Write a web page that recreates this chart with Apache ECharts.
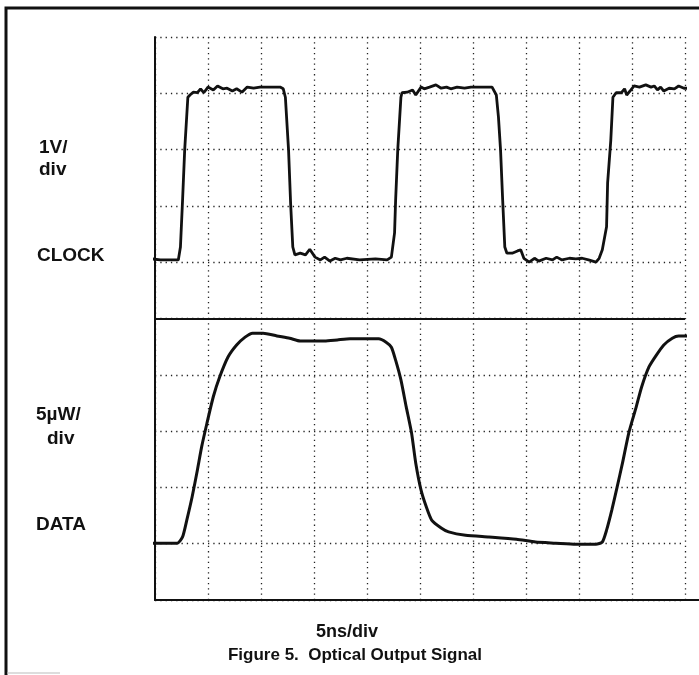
<!DOCTYPE html>
<html>
<head>
<meta charset="utf-8">
<script src="https://cdn.jsdelivr.net/npm/echarts@6/dist/echarts.min.js"></script>
<style>
  html, body { margin: 0; padding: 0; background: #fff; }
  #chart { width: 699px; height: 675px; }
</style>
</head>
<body>
<div id="chart"></div>
<script>
// time in ns (5 ns per division), level in screen divisions (0 = bottom, 10 = top)
const clockTime = [-0.7, 0.5, 2.2, 2.4, 2.6, 2.8, 3.1, 3.3, 3.6, 4.0, 4.3, 4.6, 5.0, 5.5, 5.9, 6.4, 6.8, 7.3, 7.7, 8.2, 8.7, 9.3, 9.9, 10.6, 11.1, 11.8, 12.1,
  12.3, 12.6, 12.8, 13.0, 13.2, 13.7, 14.2, 14.6, 15.1, 15.6, 16.0, 16.5, 17.0, 17.5, 18.1, 19.3, 20.8, 21.9,
  22.3, 22.6, 22.7, 22.9, 23.2, 23.3, 23.8, 24.3, 24.6, 25.1, 25.4, 25.9, 26.5, 27.0, 27.5, 27.9, 28.5, 29.2, 29.8, 30.4, 31.2, 31.8,
  32.2, 32.4, 32.6, 32.8, 33.0, 33.2, 33.7, 34.2, 34.5, 34.8, 35.3, 35.8, 36.2, 36.9, 37.5, 37.9, 38.4, 39.1, 39.7, 40.3, 40.9, 41.6, 41.9,
  42.2, 42.6, 42.7, 43.0, 43.2, 43.5, 44.0, 44.3, 44.5, 44.9, 45.2, 45.7, 46.3, 46.8, 47.1, 47.4, 47.7, 48.0, 48.5, 49.0, 49.4, 49.9, 50.3];
const clockLevel = [6.07, 6.04, 6.04, 6.27, 7.10, 7.99, 8.93, 8.97, 9.02, 9.01, 9.08, 9.01, 9.11, 9.06, 9.13, 9.08, 9.09, 9.04, 9.08, 9.02, 9.11, 9.09, 9.11, 9.11, 9.11, 9.11, 9.08,
  8.93, 7.99, 7.02, 6.27, 6.13, 6.16, 6.13, 6.23, 6.09, 6.04, 6.09, 6.02, 6.07, 6.04, 6.07, 6.04, 6.06, 6.04,
  6.09, 6.52, 7.10, 7.99, 8.93, 9.01, 9.02, 9.06, 8.97, 9.11, 9.08, 9.11, 9.15, 9.09, 9.11, 9.08, 9.11, 9.09, 9.11, 9.11, 9.11, 9.11,
  8.97, 8.58, 7.99, 7.10, 6.27, 6.16, 6.16, 6.20, 6.22, 6.07, 6.00, 6.07, 6.02, 6.07, 6.04, 6.09, 6.04, 6.07, 6.06, 6.07, 6.04, 6.00, 6.07,
  6.22, 6.63, 7.41, 8.17, 8.93, 9.01, 9.01, 9.08, 8.97, 9.06, 9.13, 9.11, 9.15, 9.11, 9.13, 9.06, 9.11, 9.04, 9.09, 9.08, 9.13, 9.09, 9.09];

const dataTime = [-0.7, 2.1, 2.6, 3.0, 3.5, 4.0, 4.4, 4.9, 5.5, 6.1, 6.9, 7.7, 8.5, 9.2, 10.2, 11.5, 12.7, 13.7, 14.9, 16.0, 17.2, 18.4, 19.9, 21.1,
  21.8, 22.3, 22.7, 23.2, 23.7, 24.2, 24.6, 25.1, 25.6, 26.1, 27.0, 27.7, 29.3, 31.5, 34.1, 35.9, 37.8, 39.7, 41.6,
  42.2, 42.6, 43.1, 43.6, 44.1, 44.7, 45.4, 45.9, 46.6, 47.3, 48.0, 48.8, 49.4, 50.2];
const dataLevel = [1.01, 1.01, 1.12, 1.42, 1.83, 2.31, 2.72, 3.14, 3.61, 3.96, 4.32, 4.53, 4.67, 4.74, 4.74, 4.69, 4.65, 4.60, 4.60, 4.60, 4.62, 4.64, 4.64, 4.64,
  4.58, 4.49, 4.26, 3.91, 3.43, 2.97, 2.43, 1.95, 1.65, 1.42, 1.28, 1.21, 1.15, 1.12, 1.08, 1.03, 1.01, 0.99, 0.99,
  1.03, 1.24, 1.60, 2.01, 2.43, 2.97, 3.43, 3.78, 4.14, 4.35, 4.53, 4.65, 4.69, 4.69];

const dividerLevel = 5; // solid line between the two channels

const labelFont = 'bold 19px "Liberation Sans", Arial, sans-serif';
const ink = '#111';

const chart = echarts.init(document.getElementById('chart'));

const dotted = { color: '#222', width: 1.3, type: [1.3, 4] };

chart.setOption({
  backgroundColor: '#fff',
  animation: false,
  grid: [
    { left: 155, right: 14, top: 37, bottom: 75 },
    { left: 155, right: 0, bottom: 75, height: 1 } // only carries the long bottom edge
  ],
  xAxis: [
    {
      type: 'value', min: 0, max: 50, interval: 5,
      axisLine: { show: false },
      axisTick: { show: false },
      axisLabel: { show: false },
      splitLine: { show: true, lineStyle: dotted }
    },
    {
      gridIndex: 1, type: 'value', min: 0, max: 1,
      axisLine: { show: true, lineStyle: { color: ink, width: 2.2 } },
      axisTick: { show: false },
      axisLabel: { show: false },
      splitLine: { show: false }
    }
  ],
  yAxis: [
    {
      type: 'value', min: 0, max: 10, interval: 1,
      axisLine: { show: true, lineStyle: { color: ink, width: 2 } },
      axisTick: { show: false },
      axisLabel: { show: false },
      splitLine: { show: true, lineStyle: dotted }
    },
    { gridIndex: 1, show: false }
  ],
  series: [
    {
      name: 'CLOCK',
      type: 'line',
      data: clockTime.map((t, i) => [t, clockLevel[i]]),
      showSymbol: false,
      clip: false,
      lineStyle: { color: ink, width: 2.8 }
    },
    {
      name: 'DATA',
      type: 'line',
      data: dataTime.map((t, i) => [t, dataLevel[i]]),
      showSymbol: false,
      clip: false,
      smooth: 0.2,
      lineStyle: { color: ink, width: 3 },
      markLine: {
        silent: true,
        symbol: 'none',
        label: { show: false },
        lineStyle: { type: 'solid', color: ink, width: 1.8 },
        data: [{ yAxis: dividerLevel }]
      }
    }
  ],
  graphic: [
    // scanned figure frame (top and left edges)
    { type: 'polyline', shape: { points: [[6, 675], [6, 8], [699, 8]] }, style: { stroke: ink, lineWidth: 3, fill: null } },
    { type: 'line', shape: { x1: 7, y1: 673, x2: 60, y2: 673 }, style: { stroke: '#bbb', lineWidth: 1 } },

    { type: 'text', x: 39, y: 148, style: { text: '1V/', font: labelFont, fill: ink, textVerticalAlign: 'middle' } },
    { type: 'text', x: 39, y: 170, style: { text: 'div', font: labelFont, fill: ink, textVerticalAlign: 'middle' } },
    { type: 'text', x: 37, y: 256, style: { text: 'CLOCK', font: labelFont, fill: ink, textVerticalAlign: 'middle' } },
    { type: 'text', x: 36, y: 415, style: { text: '5µW/', font: labelFont, fill: ink, textVerticalAlign: 'middle' } },
    { type: 'text', x: 47, y: 439, style: { text: 'div', font: labelFont, fill: ink, textVerticalAlign: 'middle' } },
    { type: 'text', x: 36, y: 525, style: { text: 'DATA', font: labelFont, fill: ink, textVerticalAlign: 'middle' } },

    { type: 'text', x: 347, y: 632, style: { text: '5ns/div', font: 'bold 18px "Liberation Sans", Arial, sans-serif', fill: ink, textAlign: 'center', textVerticalAlign: 'middle' } },
    { type: 'text', x: 355, y: 655, style: { text: 'Figure 5.  Optical Output Signal', font: 'bold 17px "Liberation Sans", Arial, sans-serif', fill: ink, textAlign: 'center', textVerticalAlign: 'middle' } }
  ]
});
</script>
</body>
</html>
